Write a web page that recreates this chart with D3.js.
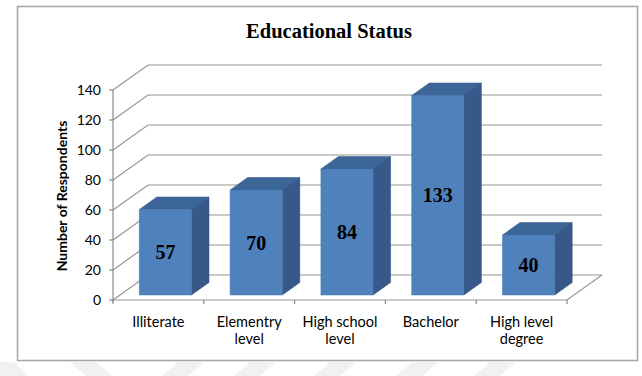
<!DOCTYPE html>
<html>
<head>
<meta charset="utf-8">
<script src="https://cdn.jsdelivr.net/npm/d3@7"></script>
<style>
	html, body {margin: 0; padding: 0; background: #fff;}
	svg {display: block;}
</style>
</head>
<body>
<svg id="chart" width="642" height="376"></svg>
<script>
(function() {
	'use strict';

	// Data.
	var categories = ['Illiterate', 'Elementry level', 'High school level', 'Bachelor', 'High level degree'];
	var categoryLines = [['Illiterate'], ['Elementry', 'level'], ['High school', 'level'], ['Bachelor'], ['High level', 'degree']];
	var respondents = [57, 70, 84, 133, 40];
	var yTicks = [0, 20, 40, 60, 80, 100, 120, 140];
	var chartTitle = 'Educational Status';
	var yTitle = 'Number of Respondents';

	var svg = d3.select('#chart');

	// Depth of the 3d box (back wall offset) and where the bars sit in it.
	var DX = 35, DY = 25;
	var barFront = 0.2, barBack = 0.7;

	var x = d3.scaleBand().domain(categories).range([113, 567]);
	var y = d3.scaleLinear().domain([0, 140]).range([300, 90]);

	function proj(px, v, d) {
		return [px + d * DX, y(v) - d * DY];}
	function pts(arr) {
		return arr.map(function(p) {return p.join(',');}).join(' ');}

	// Faint watermark stripes under the frame.
	var stripes = svg.append('g').attr('fill', '#f1f1f1');
	[[0, 'l'], [70, 'r'], [160, 'f'], [232, 'f'], [312, 'f'], [394, 'f'], [472, 'f']].forEach(function(s) {
		var x0 = s[0], p;
		if (s[1] === 'l') {p = [[x0, 362], [x0 + 14, 362], [x0 + 28, 376], [x0, 376]];}
		else if (s[1] === 'r') {p = [[x0, 362], [x0 + 26, 362], [x0 + 42, 376], [x0 + 16, 376]];}
		else {p = [[x0 + 18, 362], [x0 + 44, 362], [x0 + 28, 376], [x0 + 2, 376]];}
		stripes.append('polygon').attr('points', pts(p));});

	// Outer frame.
	svg.append('rect')
		.attr('x', 17.5).attr('y', 6.5)
		.attr('width', 620).attr('height', 354)
		.attr('fill', '#fff')
		.attr('stroke', '#a5a5a5')
		.attr('stroke-width', 1.5);

	svg.append('text')
		.attr('x', 329).attr('y', 38)
		.attr('text-anchor', 'middle')
		.style('font-family', '"Liberation Serif", "Times New Roman", serif')
		.style('font-weight', 'bold')
		.style('font-size', '20.5px')
		.attr('fill', '#000')
		.text(chartTitle);

	var x0 = x.range()[0], x1 = x.range()[1];
	var grid = svg.append('g')
		.attr('stroke', '#959595')
		.attr('stroke-width', 1.2)
		.attr('fill', 'none');

	// Back wall gridlines and left wall diagonals.
	yTicks.forEach(function(t) {
		grid.append('polyline')
			.attr('points', pts([proj(x0, t, 0), proj(x0, t, 1), proj(x1, t, 1)]));});

	// Floor.
	grid.append('polyline')
		.attr('points', pts([proj(x0, 0, 0), proj(x1, 0, 0), proj(x1, 0, 1)]));

	// Y axis with ticks.
	var axisG = svg.append('g').attr('stroke', '#8a8a8a').attr('stroke-width', 1.2);
	axisG.append('line')
		.attr('x1', x0).attr('x2', x0)
		.attr('y1', y(140)).attr('y2', y(0) + 2);
	yTicks.forEach(function(t) {
		axisG.append('line')
			.attr('x1', x0 - 4).attr('x2', x0)
			.attr('y1', y(t)).attr('y2', y(t));});
	// X ticks at band edges.
	categories.concat([null]).forEach(function(c, i) {
		var px = i < categories.length ? x(c) : x1;
		axisG.append('line')
			.attr('x1', px).attr('x2', px)
			.attr('y1', y(0)).attr('y2', y(0) + 4);});

	svg.append('g').selectAll('text').data(yTicks).enter()
		.append('text')
		.attr('x', x0 - 12)
		.attr('y', function(d) {return y(d);})
		.attr('dy', '0.36em')
		.attr('text-anchor', 'end')
		.style('font-family', 'Lato, "Open Sans", sans-serif')
		.style('font-size', '14px')
		.attr('fill', '#000')
		.text(function(d) {return d;});

	svg.append('text')
		.attr('transform', 'translate(67,196)rotate(-90)')
		.attr('text-anchor', 'middle')
		.style('font-family', 'Lato, "Open Sans", sans-serif')
		.style('font-weight', 'bold')
		.style('font-size', '14px')
		.attr('fill', '#000')
		.text(yTitle);

	// X labels.
	var xl = svg.append('g').selectAll('text').data(categories).enter()
		.append('text')
		.attr('x', function(d) {return x(d) + x.bandwidth() / 2;})
		.attr('y', 327)
		.attr('text-anchor', 'middle')
		.style('font-family', 'Lato, "Open Sans", sans-serif')
		.style('font-size', '14.5px')
		.attr('fill', '#000');
	xl.each(function(d, i) {
		var el = d3.select(this);
		categoryLines[i].forEach(function(line, j) {
			el.append('tspan')
				.attr('x', x(d) + x.bandwidth() / 2)
				.attr('dy', j === 0 ? 0 : 17)
				.text(line);});});

	// Bars: top, side, front faces.
	var faceW = x.bandwidth() * 0.575;
	var bars = svg.append('g').selectAll('g').data(categories).enter()
		.append('g');
	bars.each(function(c, i) {
		var g = d3.select(this),
				v = respondents[i],
				left = x(c) + (x.bandwidth() - faceW) / 2,
				right = left + faceW;
		g.append('polygon')
			.attr('fill', '#3c6598')
			.attr('stroke', '#34578a').attr('stroke-width', 0.5)
			.attr('points', pts([proj(left, v, barFront), proj(right, v, barFront), proj(right, v, barBack), proj(left, v, barBack)]));
		g.append('polygon')
			.attr('fill', '#36598a')
			.attr('stroke', '#304f7c').attr('stroke-width', 0.5)
			.attr('points', pts([proj(right, 0, barFront), proj(right, v, barFront), proj(right, v, barBack), proj(right, 0, barBack)]));
		g.append('polygon')
			.attr('fill', '#4f81bd')
			.attr('stroke', '#4675ad').attr('stroke-width', 0.5)
			.attr('points', pts([proj(left, 0, barFront), proj(right, 0, barFront), proj(right, v, barFront), proj(left, v, barFront)]));
		var top = proj(left, v, barFront), bottom = proj(left, 0, barFront);
		g.append('text')
			.attr('x', top[0] + faceW / 2)
			.attr('y', (top[1] + bottom[1]) / 2)
			.attr('dy', '0.35em')
			.attr('text-anchor', 'middle')
			.style('font-family', '"Liberation Serif", "Times New Roman", serif')
			.style('font-weight', 'bold')
			.style('font-size', '20px')
			.attr('fill', '#000')
			.text(v);});
})();
</script>
</body>
</html>
